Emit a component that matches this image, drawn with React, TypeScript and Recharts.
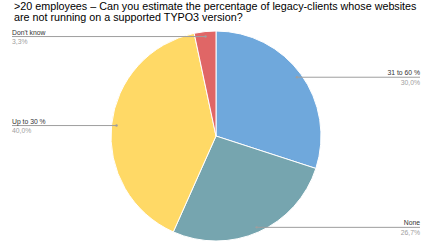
import React from "react";
import { PieChart, Pie, Cell } from "recharts";

const categories = ["31 to 60 %", "None", "Up to 30 %", "Don't know"];
const counts = [9, 8, 12, 1];
const colors = ["#6fa8dc", "#76a5af", "#ffd966", "#e06666"];
const titleLines = [
    ">20 employees – Can you estimate the percentage of legacy-clients whose websites",
    "are not running on a supported TYPO3 version?",
];

const data = categories.map((name, i) => ({ name, value: counts[i] }));

const RAD = Math.PI / 180;

const renderLabel = (props: any) => {
    const { cx, cy, midAngle, outerRadius, percent, name } = props;
    const r = outerRadius - 5;
    const x = cx + r * Math.cos(-midAngle * RAD);
    const y = cy + r * Math.sin(-midAngle * RAD);
    const right = x > cx;
    const endX = right ? 420 : 12;
    const pct = (percent * 100).toFixed(1).replace(".", ",") + "%";
    return (
        <g>
            <line x1={x} y1={y} x2={endX} y2={y} stroke="#9e9e9e" strokeWidth={1} />
            <circle cx={x} cy={y} r={1.2} fill="#9e9e9e" />
            <text
                x={endX}
                y={y - 2}
                textAnchor={right ? "end" : "start"}
                fontSize={6.8}
                fill="#333"
                fontFamily="Liberation Sans, Arial, sans-serif"
            >
                {name}
            </text>
            <text
                x={endX}
                y={y + 7.5}
                textAnchor={right ? "end" : "start"}
                fontSize={6.8}
                fill="#a0a0a0"
                fontFamily="Liberation Sans, Arial, sans-serif"
            >
                {pct}
            </text>
        </g>
    );
};

const App = () => {
    return (
        <div
            style={{
                position: "fixed",
                left: 0,
                top: 0,
                width: 433,
                height: 243,
                background: "#fff",
                overflow: "hidden",
            }}
        >
            <div
                style={{
                    position: "absolute",
                    left: 14,
                    top: 1,
                    fontFamily: "Liberation Sans, Arial, sans-serif",
                    fontSize: 10.75,
                    lineHeight: "10.5px",
                    color: "#000",
                    whiteSpace: "nowrap",
                }}
            >
                {titleLines.map((t) => (
                    <div key={t}>{t}</div>
                ))}
            </div>
            <PieChart
                width={433}
                height={243}
                margin={{ top: 0, right: 0, bottom: 0, left: 0 }}
                style={{ position: "absolute", left: 0, top: 0 }}
            >
                <Pie
                    data={data}
                    dataKey="value"
                    nameKey="name"
                    cx={216}
                    cy={136}
                    outerRadius={105}
                    startAngle={90}
                    endAngle={-270}
                    stroke="#fff"
                    strokeWidth={1}
                    label={renderLabel}
                    labelLine={false}
                    isAnimationActive={false}
                >
                    {data.map((d, i) => (
                        <Cell key={d.name} fill={colors[i]} />
                    ))}
                </Pie>
            </PieChart>
        </div>
    );
};

export default App;
